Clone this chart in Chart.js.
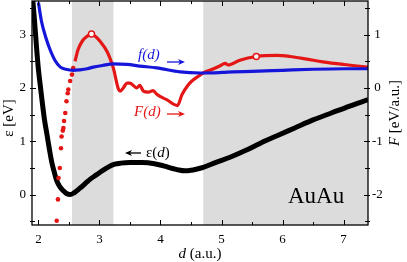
<!DOCTYPE html>
<html><head><meta charset="utf-8">
<script src="https://cdn.jsdelivr.net/npm/chart.js@4/dist/chart.umd.min.js"></script>
<style>html,body{margin:0;padding:0;background:#fff;overflow:hidden}</style>
</head><body>
<canvas id="c" width="407" height="262"></canvas>
<script>
// ---- data ----
const xTicks = [2, 3, 4, 5, 6, 7];
const epsTicks = [0, 1, 2, 3];
const forceTicks = [-2, -1, 0, 1];
const shadedBands = [[2.55, 3.23], [4.70, 7.4]];

// epsilon(d) [eV], left axis
const epsD = [1.90,1.93,1.97,2.00,2.03,2.06,2.10,2.14,2.18,2.22,2.26,2.30,2.35,2.41,2.46,2.52,2.58,2.68,2.77,2.85,2.95,3.05,3.15,3.25,3.35,3.50,3.70,3.90,4.05,4.20,4.30,4.40,4.50,4.60,4.70,4.90,5.14,5.40,5.63,5.90,6.20,6.50,6.80,7.10,7.40];
const epsV = [3.75,3.35,2.75,2.35,2.05,1.76,1.40,1.13,0.85,0.60,0.42,0.26,0.15,0.07,0.02,0.00,0.03,0.12,0.21,0.29,0.37,0.45,0.52,0.57,0.59,0.60,0.60,0.58,0.54,0.49,0.46,0.445,0.455,0.48,0.51,0.60,0.70,0.83,0.96,1.10,1.25,1.40,1.53,1.66,1.78];

// f(d) [eV/a.u.], right axis
const fD = [2.00,2.05,2.12,2.19,2.27,2.36,2.45,2.57,2.68,2.80,2.90,3.05,3.23,3.45,3.66,3.94,4.32,4.65,5.00,5.19,5.50,6.00,6.50,7.00,7.40];
const fV = [1.60,1.25,0.95,0.72,0.52,0.39,0.35,0.33,0.34,0.36,0.39,0.42,0.45,0.44,0.41,0.375,0.30,0.28,0.29,0.30,0.31,0.33,0.35,0.36,0.36];

// F(d) [eV/a.u.], right axis: sparse points at small d
const FdotD = [2.30,2.32,2.33,2.35,2.37,2.38,2.40,2.41,2.42,2.44,2.46,2.48,2.49,2.52,2.55,2.57];
const FdotV = [-2.49,-2.09,-1.69,-1.50,-1.13,-0.91,-0.80,-0.75,-0.62,-0.47,-0.25,-0.10,-0.03,0.13,0.25,0.375];
// F(d) continuous part
const FD = [2.60,2.65,2.72,2.80,2.87,2.95,3.02,3.09,3.15,3.20,3.24,3.27,3.31,3.34,3.39,3.45,3.50,3.56,3.61,3.66,3.72,3.80,3.88,3.94,4.10,4.28,4.35,4.45,4.51,4.62,4.70,4.85,4.97,5.06,5.11,5.30,5.57,5.90,6.12,6.40,6.66,7.00,7.40];
const FV = [0.50,0.72,0.88,0.97,1.01,0.95,0.86,0.75,0.62,0.47,0.32,0.16,-0.02,-0.06,0.00,0.09,0.09,0.04,0.00,0.05,-0.06,-0.08,-0.05,-0.12,-0.22,-0.33,-0.13,0.05,0.125,0.22,0.28,0.35,0.41,0.46,0.43,0.52,0.59,0.61,0.59,0.54,0.49,0.44,0.39];
// open markers on F(d)
const FmarkD = [2.87, 5.57];
const FmarkV = [1.01, 0.59];

const pts = (xs, ys) => xs.map((x, i) => ({x, y: ys[i]}));

const RED = 'rgb(228,22,22)', BLUE = 'rgb(22,22,218)', GRAY = 'rgb(220,220,220)';
const SERIF = '"Liberation Serif", "Times New Roman", Times, serif';

function arrow(ctx, x1, x2, y, color) {
  const dir = Math.sign(x2 - x1);
  ctx.save();
  ctx.strokeStyle = color; ctx.fillStyle = color; ctx.lineWidth = 1.3;
  ctx.beginPath(); ctx.moveTo(x1, y); ctx.lineTo(x2 - dir * 2, y); ctx.stroke();
  ctx.beginPath(); ctx.moveTo(x2, y); ctx.lineTo(x2 - dir * 7, y - 3); ctx.lineTo(x2 - dir * 5, y); ctx.lineTo(x2 - dir * 7, y + 3); ctx.closePath(); ctx.fill();
  ctx.restore();
}

const decor = {
  id: 'decor',
  beforeDatasetsDraw(chart) {
    const {ctx, chartArea: a, scales: {x}} = chart;
    ctx.save();
    ctx.fillStyle = GRAY;
    shadedBands.forEach(([lo, hi]) => {
      const p1 = Math.max(a.left, x.getPixelForValue(lo));
      const p2 = Math.min(a.right, x.getPixelForValue(hi));
      ctx.fillRect(p1, a.top, p2 - p1, a.bottom - a.top);
    });
    ctx.restore();
  },
  afterDatasetsDraw(chart) {
    const {ctx, chartArea: a, scales: {x, y, y2}} = chart;
    ctx.save();
    // frame
    ctx.strokeStyle = '#000'; ctx.lineWidth = 1.3;
    ctx.strokeRect(a.left, a.top, a.right - a.left, a.bottom - a.top);
    ctx.lineWidth = 1;
    ctx.beginPath();
    for (let v = 2; v <= 7.4; v += 0.5) {
      const px = Math.round(x.getPixelForValue(v)) + 0.5;
      const L = Number.isInteger(v) ? 5 : 3;
      ctx.moveTo(px, a.bottom); ctx.lineTo(px, a.bottom - L);
      ctx.moveTo(px, a.top); ctx.lineTo(px, a.top + L);
    }
    for (let v = -0.5; v <= 3.5; v += 0.5) {
      const py = Math.round(y.getPixelForValue(v)) + 0.5;
      const L = Number.isInteger(v) ? 4 : 3;
      ctx.moveTo(a.left - 2, py); ctx.lineTo(a.left + L, py);
    }
    for (let v = -2.5; v <= 1.5; v += 0.5) {
      const py = Math.round(y2.getPixelForValue(v)) + 0.5;
      const L = Number.isInteger(v) ? 4 : 3;
      ctx.moveTo(a.right + 2, py); ctx.lineTo(a.right - L, py);
    }
    ctx.stroke();

    // annotations
    ctx.textBaseline = 'middle';
    ctx.textAlign = 'left';
    ctx.fillStyle = BLUE;
    ctx.font = 'italic 15px ' + SERIF;
    ctx.fillText('f(d)', 138, 55);
    arrow(ctx, 167, 185, 62, BLUE);
    ctx.fillStyle = RED;
    ctx.fillText('F(d)', 134, 112);
    arrow(ctx, 167, 185, 114, RED);
    ctx.fillStyle = '#000';
    ctx.font = '15px ' + SERIF;
    ctx.fillText('ε(', 146, 153);
    let w = ctx.measureText('ε(').width;
    ctx.font = 'italic 15px ' + SERIF;
    ctx.fillText('d', 146 + w, 153);
    let w2 = ctx.measureText('d').width;
    ctx.font = '15px ' + SERIF;
    ctx.fillText(')', 146 + w + w2, 153);
    arrow(ctx, 141, 125, 153, '#000');
    ctx.font = '23px ' + SERIF;
    ctx.textBaseline = 'alphabetic';
    ctx.fillText('AuAu', 288, 203);
    ctx.restore();
  },
  afterDraw(chart) {
    const {ctx, chartArea: a} = chart;
    ctx.save();
    ctx.fillStyle = '#000';
    ctx.textBaseline = 'middle';
    // x title: d (a.u.)
    ctx.font = 'italic 15px ' + SERIF;
    const wd = ctx.measureText('d ').width;
    ctx.font = '15px ' + SERIF;
    const wr = ctx.measureText('(a.u.)').width;
    let sx = (a.left + a.right) / 2 - (wd + wr) / 2;
    ctx.font = 'italic 15px ' + SERIF; ctx.textAlign = 'left';
    ctx.fillText('d', sx, 254);
    ctx.font = '15px ' + SERIF;
    ctx.fillText('(a.u.)', sx + wd, 254);
    // left title
    ctx.save();
    ctx.translate(9, 118); ctx.rotate(-Math.PI / 2);
    ctx.textAlign = 'center';
    ctx.font = '15px ' + SERIF;
    ctx.fillText('ε [eV]', 0, 0);
    ctx.restore();
    // right title (reads bottom-to-top)
    ctx.save();
    ctx.translate(395, 113); ctx.rotate(-Math.PI / 2);
    ctx.font = 'italic 15px ' + SERIF;
    const wF = ctx.measureText('F ').width;
    ctx.font = '15px ' + SERIF;
    const wU = ctx.measureText('[eV/a.u.]').width;
    ctx.textAlign = 'left';
    ctx.font = 'italic 15px ' + SERIF;
    ctx.fillText('F', -(wF + wU) / 2, 0);
    ctx.font = '15px ' + SERIF;
    ctx.fillText('[eV/a.u.]', -(wF + wU) / 2 + wF, 0);
    ctx.restore();
    ctx.restore();
  }
};

const tickFont = {family: SERIF, size: 13};
const fitV = w => s => { s.width = w; s.paddingTop = 0; s.paddingBottom = 0; };
new Chart(document.getElementById('c'), {
  type: 'scatter',
  data: {
    datasets: [
      {label: 'F markers', data: pts(FmarkD, FmarkV), yAxisID: 'y2', showLine: false,
       pointRadius: 3, pointBackgroundColor: '#fff', pointBorderColor: RED, pointBorderWidth: 1.5},
      {label: 'f(d)', data: pts(fD, fV), yAxisID: 'y2', showLine: true, borderColor: BLUE, borderWidth: 3.2,
       pointRadius: 0, cubicInterpolationMode: 'monotone'},
      {label: 'F(d)', data: pts(FD, FV), yAxisID: 'y2', showLine: true, borderColor: RED, borderWidth: 3.2,
       pointRadius: 0, cubicInterpolationMode: 'monotone'},
      {label: 'F(d) dots', data: pts(FdotD, FdotV), yAxisID: 'y2', showLine: false,
       pointRadius: 2.3, pointBackgroundColor: RED, pointBorderWidth: 0},
      {label: 'eps(d)', data: pts(epsD, epsV), yAxisID: 'y', showLine: true, borderColor: '#000', borderWidth: 5,
       pointRadius: 0, cubicInterpolationMode: 'monotone'}
    ]
  },
  options: {
    responsive: false, animation: false, devicePixelRatio: 1,
    layout: {autoPadding: false, padding: {top: 1, left: 0, right: 0, bottom: 0}},
    plugins: {legend: {display: false}, tooltip: {enabled: false}},
    scales: {
      x: {type: 'linear', min: 1.895, max: 7.4,
          afterBuildTicks: s => { s.ticks = xTicks.map(v => ({value: v})); },
          afterFit: s => { s.height = 37; s.paddingLeft = 0; s.paddingRight = 0; },
          grid: {display: false, drawTicks: false}, border: {display: false},
          ticks: {font: tickFont, color: '#000', padding: 7, maxRotation: 0}},
      y: {type: 'linear', position: 'left', min: -0.57, max: 3.63,
          afterBuildTicks: s => { s.ticks = epsTicks.map(v => ({value: v})); },
          afterFit: fitV(32),
          grid: {display: false, drawTicks: false}, border: {display: false},
          ticks: {font: tickFont, color: '#000', padding: 6}},
      y2: {type: 'linear', position: 'right', min: -2.57, max: 1.63,
          afterBuildTicks: s => { s.ticks = forceTicks.map(v => ({value: v})); },
          afterFit: fitV(39),
          grid: {display: false, drawTicks: false}, border: {display: false},
          ticks: {font: tickFont, color: '#000', padding: 4, crossAlign: 'center'}}
    }
  },
  plugins: [decor]
});
</script>
</body></html>
